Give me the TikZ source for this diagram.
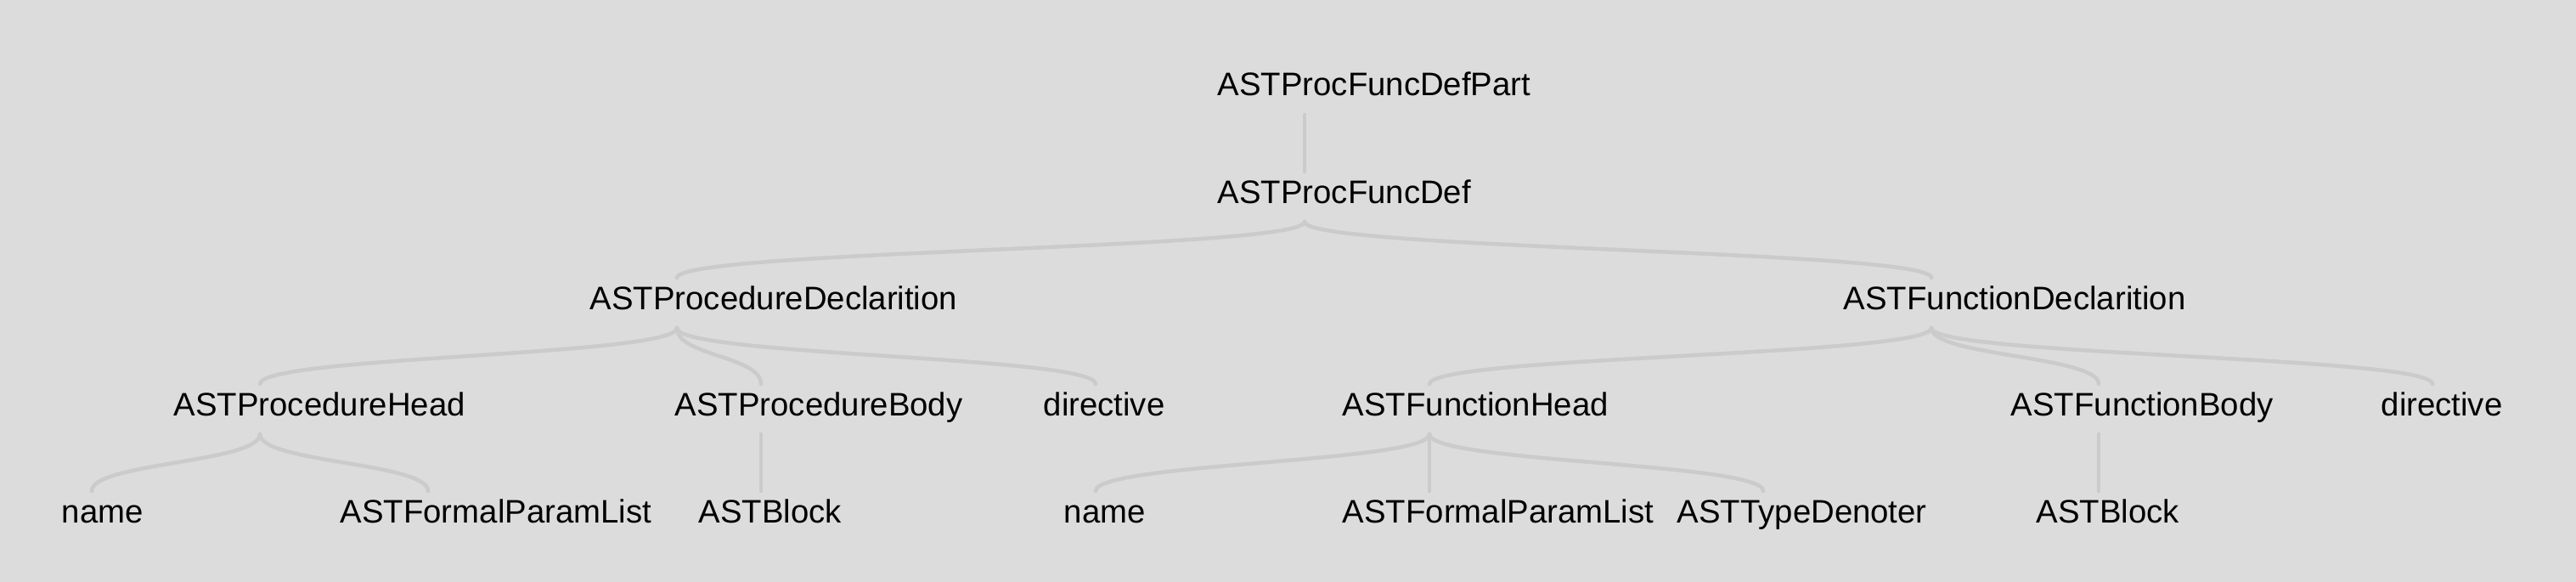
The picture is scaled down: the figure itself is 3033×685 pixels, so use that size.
\documentclass[tikz,border=0pt]{standalone}
\usepackage{fontspec}
\setmainfont{Liberation Sans}
\usepackage{tikz}
\usetikzlibrary{calc}
\usepackage{xcolor}
\definecolor{treebg}{HTML}{DCDCDC}
\definecolor{treeline}{HTML}{CBCBCB}
\tikzset{
  lbl/.style  = {inner sep=0pt, anchor=base west, text=black,
                 font=\fontsize{10.9}{13}\selectfont},
  link/.style = {draw=treeline, line width=1.3pt, line cap=round},
}
% label node (#1) with its left edge at #2, link point at #3, baseline #4
\newcommand\treenode[5]{%
  \node[lbl] (#1) at (#2,-#4) {#5};
  \coordinate (#1-top) at (#3,{-#4+37});
  \coordinate (#1-bot) at (#3,{-#4-22});}
% vertical bezier from parent #1 to child #2
\newcommand\treelink[2]{%
  \path ($(#1-bot)!.5!(#2-top)$) coordinate (mid);
  \draw[link] (#1-bot) .. controls (#1-bot |- mid) and (#2-top |- mid)
              .. (#2-top);}

\begin{document}
\begin{tikzpicture}[x=0.01cm, y=0.01cm]
\fill[treebg] (0,0) rectangle (3033,-685);
\useasboundingbox (0,0) rectangle (3033,-685);
% ---- levels 1 and 2 ----
\treenode{part}{1433}{1536}{113}{ASTProcFuncDefPart}
\treenode{def}{1433}{1536}{239}{ASTProcFuncDef}
% ---- declarations ----
\treenode{pdecl}{694}{797}{364}{ASTProcedureDeclarition}
\treenode{fdecl}{2170}{2274}{364}{ASTFunctionDeclarition}
% ---- heads, bodies, directives ----
\treenode{phead}{204}{306}{489}{ASTProcedureHead}
\treenode{pbody}{794}{896}{489}{ASTProcedureBody}
\treenode{pdir}{1228}{1290}{489}{directive}
\treenode{fhead}{1580}{1683}{489}{ASTFunctionHead}
\treenode{fbody}{2367}{2471}{489}{ASTFunctionBody}
\treenode{fdir}{2803}{2864}{489}{directive}
% ---- leaves ----
\treenode{pname}{72}{108}{615}{name}
\treenode{pparams}{400}{504}{615}{ASTFormalParamList}
\treenode{pblock}{822}{896}{615}{ASTBlock}
\treenode{fname}{1252}{1290}{615}{name}
\treenode{fparams}{1580}{1683}{615}{ASTFormalParamList}
\treenode{ftype}{1974}{2076}{615}{ASTTypeDenoter}
\treenode{fblock}{2397}{2471}{615}{ASTBlock}
% ---- links ----
\treelink{part}{def}
\treelink{def}{pdecl}
\treelink{def}{fdecl}
\treelink{pdecl}{phead}
\treelink{pdecl}{pbody}
\treelink{pdecl}{pdir}
\treelink{fdecl}{fhead}
\treelink{fdecl}{fbody}
\treelink{fdecl}{fdir}
\treelink{phead}{pname}
\treelink{phead}{pparams}
\treelink{pbody}{pblock}
\treelink{fhead}{fname}
\treelink{fhead}{fparams}
\treelink{fhead}{ftype}
\treelink{fbody}{fblock}
\end{tikzpicture}
\end{document}
